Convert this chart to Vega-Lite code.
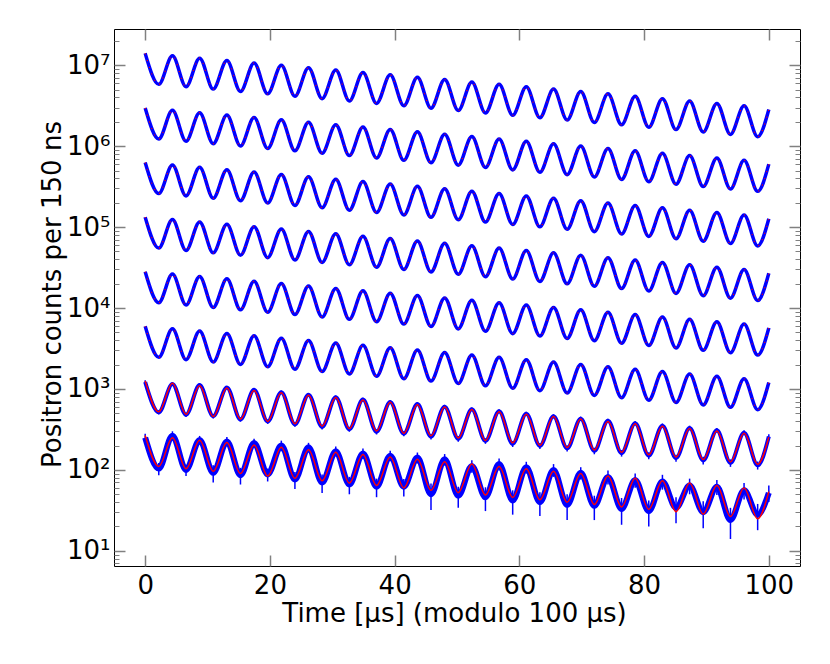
{
  "$schema": "https://vega.github.io/schema/vega-lite/v6.json",
  "width": 686,
  "height": 537,
  "autosize": "none",
  "padding": {"left": 114, "top": 29, "right": 30, "bottom": 98},
  "datasets": {
    "fit": [
      {"k":0,"t":0,"v":14000000},{"k":0,"t":2.18,"v":5800000},{"k":0,"t":4.37,"v":13083000},{"k":0,"t":6.55,"v":5420000},{"k":0,"t":8.73,"v":12225000},{"k":0,"t":10.91,"v":5065000},{"k":0,"t":13.1,"v":11424000},{"k":0,"t":15.28,"v":4733000},{"k":0,"t":17.46,"v":10675000},{"k":0,"t":19.64,"v":4423000},{"k":0,"t":21.83,"v":9976000},{"k":0,"t":24.01,"v":4133000},{"k":0,"t":26.19,"v":9322000},{"k":0,"t":28.37,"v":3862000},{"k":0,"t":30.56,"v":8711000},{"k":0,"t":32.74,"v":3609000},{"k":0,"t":34.92,"v":8140000},{"k":0,"t":37.1,"v":3373000},{"k":0,"t":39.29,"v":7607000},{"k":0,"t":41.47,"v":3152000},{"k":0,"t":43.65,"v":7109000},{"k":0,"t":45.83,"v":2945000},{"k":0,"t":48.02,"v":6643000},{"k":0,"t":50.2,"v":2752000},{"k":0,"t":52.38,"v":6208000},{"k":0,"t":54.56,"v":2572000},{"k":0,"t":56.75,"v":5801000},{"k":0,"t":58.93,"v":2403000},{"k":0,"t":61.11,"v":5421000},{"k":0,"t":63.29,"v":2246000},{"k":0,"t":65.48,"v":5065000},{"k":0,"t":67.66,"v":2099000},{"k":0,"t":69.84,"v":4733000},{"k":0,"t":72.02,"v":1961000},{"k":0,"t":74.21,"v":4423000},{"k":0,"t":76.39,"v":1833000},{"k":0,"t":78.57,"v":4133000},{"k":0,"t":80.75,"v":1712000},{"k":0,"t":82.94,"v":3863000},{"k":0,"t":85.12,"v":1600000},{"k":0,"t":87.3,"v":3609000},{"k":0,"t":89.48,"v":1495000},{"k":0,"t":91.67,"v":3373000},{"k":0,"t":93.85,"v":1397000},{"k":0,"t":96.03,"v":3152000},{"k":0,"t":98.21,"v":1306000},{"k":0,"t":100,"v":2830000},
      {"k":1,"t":0,"v":2963000},{"k":1,"t":2.18,"v":1227600},{"k":1,"t":4.37,"v":2769000},{"k":1,"t":6.55,"v":1147200},{"k":1,"t":8.73,"v":2587500},{"k":1,"t":10.91,"v":1072100},{"k":1,"t":13.1,"v":2418000},{"k":1,"t":15.28,"v":1001800},{"k":1,"t":17.46,"v":2259500},{"k":1,"t":19.64,"v":936200},{"k":1,"t":21.83,"v":2111500},{"k":1,"t":24.01,"v":874800},{"k":1,"t":26.19,"v":1973100},{"k":1,"t":28.37,"v":817400},{"k":1,"t":30.56,"v":1843800},{"k":1,"t":32.74,"v":763900},{"k":1,"t":34.92,"v":1722900},{"k":1,"t":37.1,"v":713900},{"k":1,"t":39.29,"v":1610100},{"k":1,"t":41.47,"v":667200},{"k":1,"t":43.65,"v":1504700},{"k":1,"t":45.83,"v":623400},{"k":1,"t":48.02,"v":1406100},{"k":1,"t":50.2,"v":582500},{"k":1,"t":52.38,"v":1314000},{"k":1,"t":54.56,"v":544400},{"k":1,"t":56.75,"v":1227800},{"k":1,"t":58.93,"v":508600},{"k":1,"t":61.11,"v":1147400},{"k":1,"t":63.29,"v":475400},{"k":1,"t":65.48,"v":1072100},{"k":1,"t":67.66,"v":444300},{"k":1,"t":69.84,"v":1001800},{"k":1,"t":72.02,"v":415100},{"k":1,"t":74.21,"v":936200},{"k":1,"t":76.39,"v":388000},{"k":1,"t":78.57,"v":874800},{"k":1,"t":80.75,"v":362400},{"k":1,"t":82.94,"v":817700},{"k":1,"t":85.12,"v":338700},{"k":1,"t":87.3,"v":763900},{"k":1,"t":89.48,"v":316400},{"k":1,"t":91.67,"v":713900},{"k":1,"t":93.85,"v":295700},{"k":1,"t":96.03,"v":667200},{"k":1,"t":98.21,"v":276400},{"k":1,"t":100,"v":599000},
      {"k":2,"t":0,"v":627200},{"k":2,"t":2.18,"v":259800},{"k":2,"t":4.37,"v":586100},{"k":2,"t":6.55,"v":242800},{"k":2,"t":8.73,"v":547700},{"k":2,"t":10.91,"v":226900},{"k":2,"t":13.1,"v":511800},{"k":2,"t":15.28,"v":212000},{"k":2,"t":17.46,"v":478200},{"k":2,"t":19.64,"v":198100},{"k":2,"t":21.83,"v":446900},{"k":2,"t":24.01,"v":185200},{"k":2,"t":26.19,"v":417600},{"k":2,"t":28.37,"v":173000},{"k":2,"t":30.56,"v":390300},{"k":2,"t":32.74,"v":161700},{"k":2,"t":34.92,"v":364700},{"k":2,"t":37.1,"v":151100},{"k":2,"t":39.29,"v":340800},{"k":2,"t":41.47,"v":141200},{"k":2,"t":43.65,"v":318500},{"k":2,"t":45.83,"v":131900},{"k":2,"t":48.02,"v":297600},{"k":2,"t":50.2,"v":123300},{"k":2,"t":52.38,"v":278100},{"k":2,"t":54.56,"v":115200},{"k":2,"t":56.75,"v":259900},{"k":2,"t":58.93,"v":107700},{"k":2,"t":61.11,"v":242900},{"k":2,"t":63.29,"v":100600},{"k":2,"t":65.48,"v":226900},{"k":2,"t":67.66,"v":94040},{"k":2,"t":69.84,"v":212000},{"k":2,"t":72.02,"v":87850},{"k":2,"t":74.21,"v":198100},{"k":2,"t":76.39,"v":82120},{"k":2,"t":78.57,"v":185200},{"k":2,"t":80.75,"v":76700},{"k":2,"t":82.94,"v":173100},{"k":2,"t":85.12,"v":71680},{"k":2,"t":87.3,"v":161700},{"k":2,"t":89.48,"v":66980},{"k":2,"t":91.67,"v":151100},{"k":2,"t":93.85,"v":62590},{"k":2,"t":96.03,"v":141200},{"k":2,"t":98.21,"v":58510},{"k":2,"t":100,"v":126800},
      {"k":3,"t":0,"v":132750},{"k":3,"t":2.18,"v":55000},{"k":3,"t":4.37,"v":124060},{"k":3,"t":6.55,"v":51390},{"k":3,"t":8.73,"v":115920},{"k":3,"t":10.91,"v":48030},{"k":3,"t":13.1,"v":108330},{"k":3,"t":15.28,"v":44880},{"k":3,"t":17.46,"v":101220},{"k":3,"t":19.64,"v":41940},{"k":3,"t":21.83,"v":94600},{"k":3,"t":24.01,"v":39190},{"k":3,"t":26.19,"v":88390},{"k":3,"t":28.37,"v":36620},{"k":3,"t":30.56,"v":82600},{"k":3,"t":32.74,"v":34220},{"k":3,"t":34.92,"v":77190},{"k":3,"t":37.1,"v":31980},{"k":3,"t":39.29,"v":72130},{"k":3,"t":41.47,"v":29890},{"k":3,"t":43.65,"v":67410},{"k":3,"t":45.83,"v":27930},{"k":3,"t":48.02,"v":62990},{"k":3,"t":50.2,"v":26100},{"k":3,"t":52.38,"v":58870},{"k":3,"t":54.56,"v":24390},{"k":3,"t":56.75,"v":55010},{"k":3,"t":58.93,"v":22790},{"k":3,"t":61.11,"v":51400},{"k":3,"t":63.29,"v":21300},{"k":3,"t":65.48,"v":48030},{"k":3,"t":67.66,"v":19900},{"k":3,"t":69.84,"v":44880},{"k":3,"t":72.02,"v":18600},{"k":3,"t":74.21,"v":41940},{"k":3,"t":76.39,"v":17380},{"k":3,"t":78.57,"v":39190},{"k":3,"t":80.75,"v":16230},{"k":3,"t":82.94,"v":36630},{"k":3,"t":85.12,"v":15170},{"k":3,"t":87.3,"v":34220},{"k":3,"t":89.48,"v":14180},{"k":3,"t":91.67,"v":31980},{"k":3,"t":93.85,"v":13250},{"k":3,"t":96.03,"v":29890},{"k":3,"t":98.21,"v":12380},{"k":3,"t":100,"v":26840},
      {"k":4,"t":0,"v":28100},{"k":4,"t":2.18,"v":11640},{"k":4,"t":4.37,"v":26260},{"k":4,"t":6.55,"v":10880},{"k":4,"t":8.73,"v":24540},{"k":4,"t":10.91,"v":10170},{"k":4,"t":13.1,"v":22930},{"k":4,"t":15.28,"v":9500},{"k":4,"t":17.46,"v":21430},{"k":4,"t":19.64,"v":8877},{"k":4,"t":21.83,"v":20020},{"k":4,"t":24.01,"v":8295},{"k":4,"t":26.19,"v":18710},{"k":4,"t":28.37,"v":7751},{"k":4,"t":30.56,"v":17480},{"k":4,"t":32.74,"v":7244},{"k":4,"t":34.92,"v":16340},{"k":4,"t":37.1,"v":6770},{"k":4,"t":39.29,"v":15270},{"k":4,"t":41.47,"v":6326},{"k":4,"t":43.65,"v":14270},{"k":4,"t":45.83,"v":5911},{"k":4,"t":48.02,"v":13330},{"k":4,"t":50.2,"v":5524},{"k":4,"t":52.38,"v":12460},{"k":4,"t":54.56,"v":5162},{"k":4,"t":56.75,"v":11640},{"k":4,"t":58.93,"v":4823},{"k":4,"t":61.11,"v":10880},{"k":4,"t":63.29,"v":4508},{"k":4,"t":65.48,"v":10170},{"k":4,"t":67.66,"v":4213},{"k":4,"t":69.84,"v":9500},{"k":4,"t":72.02,"v":3936},{"k":4,"t":74.21,"v":8877},{"k":4,"t":76.39,"v":3679},{"k":4,"t":78.57,"v":8295},{"k":4,"t":80.75,"v":3436},{"k":4,"t":82.94,"v":7753},{"k":4,"t":85.12,"v":3211},{"k":4,"t":87.3,"v":7244},{"k":4,"t":89.48,"v":3001},{"k":4,"t":91.67,"v":6770},{"k":4,"t":93.85,"v":2804},{"k":4,"t":96.03,"v":6326},{"k":4,"t":98.21,"v":2621},{"k":4,"t":100,"v":5680},
      {"k":5,"t":0,"v":5947},{"k":5,"t":2.18,"v":2464},{"k":5,"t":4.37,"v":5558},{"k":5,"t":6.55,"v":2303},{"k":5,"t":8.73,"v":5193},{"k":5,"t":10.91,"v":2152},{"k":5,"t":13.1,"v":4853},{"k":5,"t":15.28,"v":2011},{"k":5,"t":17.46,"v":4535},{"k":5,"t":19.64,"v":1879},{"k":5,"t":21.83,"v":4238},{"k":5,"t":24.01,"v":1756},{"k":5,"t":26.19,"v":3960},{"k":5,"t":28.37,"v":1641},{"k":5,"t":30.56,"v":3701},{"k":5,"t":32.74,"v":1533},{"k":5,"t":34.92,"v":3458},{"k":5,"t":37.1,"v":1433},{"k":5,"t":39.29,"v":3232},{"k":5,"t":41.47,"v":1339},{"k":5,"t":43.65,"v":3020},{"k":5,"t":45.83,"v":1251},{"k":5,"t":48.02,"v":2822},{"k":5,"t":50.2,"v":1169},{"k":5,"t":52.38,"v":2637},{"k":5,"t":54.56,"v":1093},{"k":5,"t":56.75,"v":2464},{"k":5,"t":58.93,"v":1021},{"k":5,"t":61.11,"v":2303},{"k":5,"t":63.29,"v":954},{"k":5,"t":65.48,"v":2152},{"k":5,"t":67.66,"v":892},{"k":5,"t":69.84,"v":2011},{"k":5,"t":72.02,"v":833},{"k":5,"t":74.21,"v":1879},{"k":5,"t":76.39,"v":779},{"k":5,"t":78.57,"v":1756},{"k":5,"t":80.75,"v":727},{"k":5,"t":82.94,"v":1641},{"k":5,"t":85.12,"v":680},{"k":5,"t":87.3,"v":1533},{"k":5,"t":89.48,"v":635},{"k":5,"t":91.67,"v":1433},{"k":5,"t":93.85,"v":593},{"k":5,"t":96.03,"v":1339},{"k":5,"t":98.21,"v":555},{"k":5,"t":100,"v":1202},
      {"k":6,"t":0,"v":1259},{"k":6,"t":2.18,"v":521.5},{"k":6,"t":4.37,"v":1176},{"k":6,"t":6.55,"v":487.4},{"k":6,"t":8.73,"v":1099},{"k":6,"t":10.91,"v":455.4},{"k":6,"t":13.1,"v":1027},{"k":6,"t":15.28,"v":425.6},{"k":6,"t":17.46,"v":959.9},{"k":6,"t":19.64,"v":397.7},{"k":6,"t":21.83,"v":897},{"k":6,"t":24.01,"v":371.6},{"k":6,"t":26.19,"v":838.2},{"k":6,"t":28.37,"v":347.3},{"k":6,"t":30.56,"v":783.3},{"k":6,"t":32.74,"v":324.5},{"k":6,"t":34.92,"v":731.9},{"k":6,"t":37.1,"v":303.3},{"k":6,"t":39.29,"v":684},{"k":6,"t":41.47,"v":283.4},{"k":6,"t":43.65,"v":639.2},{"k":6,"t":45.83,"v":264.8},{"k":6,"t":48.02,"v":597.3},{"k":6,"t":50.2,"v":247.5},{"k":6,"t":52.38,"v":558.2},{"k":6,"t":54.56,"v":231.3},{"k":6,"t":56.75,"v":521.6},{"k":6,"t":58.93,"v":216.1},{"k":6,"t":61.11,"v":487.4},{"k":6,"t":63.29,"v":202},{"k":6,"t":65.48,"v":455.4},{"k":6,"t":67.66,"v":188.7},{"k":6,"t":69.84,"v":425.6},{"k":6,"t":72.02,"v":176.3},{"k":6,"t":74.21,"v":397.7},{"k":6,"t":76.39,"v":164.8},{"k":6,"t":78.57,"v":371.6},{"k":6,"t":80.75,"v":153.9},{"k":6,"t":82.94,"v":347.4},{"k":6,"t":85.12,"v":143.9},{"k":6,"t":87.3,"v":324.5},{"k":6,"t":89.48,"v":134.4},{"k":6,"t":91.67,"v":303.3},{"k":6,"t":93.85,"v":125.6},{"k":6,"t":96.03,"v":283.4},{"k":6,"t":98.21,"v":117.4},{"k":6,"t":100,"v":254.5},
      {"k":7,"t":0,"v":266.4},{"k":7,"t":2.18,"v":110.4},{"k":7,"t":4.37,"v":249},{"k":7,"t":6.55,"v":103.2},{"k":7,"t":8.73,"v":232.7},{"k":7,"t":10.91,"v":96.4},{"k":7,"t":13.1,"v":217.4},{"k":7,"t":15.28,"v":90.08},{"k":7,"t":17.46,"v":203.2},{"k":7,"t":19.64,"v":84.18},{"k":7,"t":21.83,"v":189.9},{"k":7,"t":24.01,"v":78.66},{"k":7,"t":26.19,"v":177.4},{"k":7,"t":28.37,"v":73.5},{"k":7,"t":30.56,"v":165.8},{"k":7,"t":32.74,"v":68.69},{"k":7,"t":34.92,"v":154.9},{"k":7,"t":37.1,"v":64.2},{"k":7,"t":39.29,"v":144.8},{"k":7,"t":41.47,"v":59.99},{"k":7,"t":43.65,"v":135.3},{"k":7,"t":45.83,"v":56.05},{"k":7,"t":48.02,"v":126.4},{"k":7,"t":50.2,"v":52.38},{"k":7,"t":52.38,"v":118.2},{"k":7,"t":54.56,"v":48.95},{"k":7,"t":56.75,"v":110.4},{"k":7,"t":58.93,"v":45.73},{"k":7,"t":61.11,"v":103.2},{"k":7,"t":63.29,"v":42.75},{"k":7,"t":65.48,"v":96.4},{"k":7,"t":67.66,"v":39.95},{"k":7,"t":69.84,"v":90.08},{"k":7,"t":72.02,"v":37.32},{"k":7,"t":74.21,"v":84.18},{"k":7,"t":76.39,"v":34.89},{"k":7,"t":78.57,"v":78.66},{"k":7,"t":80.75,"v":32.58},{"k":7,"t":82.94,"v":73.52},{"k":7,"t":85.12,"v":30.45},{"k":7,"t":87.3,"v":68.69},{"k":7,"t":89.48,"v":28.45},{"k":7,"t":91.67,"v":64.2},{"k":7,"t":93.85,"v":26.59},{"k":7,"t":96.03,"v":59.99},{"k":7,"t":98.21,"v":24.86},{"k":7,"t":100,"v":53.86}
    ],
    "obs": [
      {"k":6,"t":0,"y":1220,"e":60},{"k":6,"t":2.18,"y":515,"e":30},{"k":6,"t":4.37,"y":1150,"e":55},{"k":6,"t":6.55,"y":480,"e":28},{"k":6,"t":8.73,"y":1120,"e":55},{"k":6,"t":10.91,"y":460,"e":28},{"k":6,"t":13.1,"y":1040,"e":50},{"k":6,"t":15.28,"y":420,"e":26},{"k":6,"t":17.46,"y":975,"e":48},{"k":6,"t":19.64,"y":395,"e":25},{"k":6,"t":21.83,"y":910,"e":45},{"k":6,"t":24.01,"y":365,"e":24},{"k":6,"t":26.19,"y":850,"e":42},{"k":6,"t":28.37,"y":340,"e":24},{"k":6,"t":30.56,"y":790,"e":40},{"k":6,"t":32.74,"y":318,"e":22},{"k":6,"t":34.92,"y":740,"e":38},{"k":6,"t":37.1,"y":296,"e":22},{"k":6,"t":39.29,"y":690,"e":36},{"k":6,"t":41.47,"y":280,"e":20},{"k":6,"t":43.65,"y":650,"e":34},{"k":6,"t":45.83,"y":258,"e":20},{"k":6,"t":48.02,"y":605,"e":32},{"k":6,"t":50.2,"y":243,"e":20},{"k":6,"t":52.38,"y":560,"e":30},{"k":6,"t":54.56,"y":228,"e":18},{"k":6,"t":56.75,"y":530,"e":30},{"k":6,"t":58.93,"y":210,"e":18},{"k":6,"t":61.11,"y":495,"e":28},{"k":6,"t":63.29,"y":198,"e":17},{"k":6,"t":65.48,"y":460,"e":27},{"k":6,"t":67.66,"y":185,"e":16},{"k":6,"t":69.84,"y":430,"e":26},{"k":6,"t":72.02,"y":172,"e":16},{"k":6,"t":74.21,"y":405,"e":25},{"k":6,"t":76.39,"y":161,"e":15},{"k":6,"t":78.57,"y":378,"e":24},{"k":6,"t":80.75,"y":150,"e":15},{"k":6,"t":82.94,"y":352,"e":23},{"k":6,"t":85.12,"y":140,"e":14},{"k":6,"t":87.3,"y":330,"e":22},{"k":6,"t":89.48,"y":131,"e":14},{"k":6,"t":91.67,"y":308,"e":21},{"k":6,"t":93.85,"y":122,"e":13},{"k":6,"t":96.03,"y":288,"e":20},{"k":6,"t":98.21,"y":114,"e":13},{"k":6,"t":100,"y":258,"e":18},
      {"k":7,"t":0,"y":250,"e":30},{"k":7,"t":2.18,"y":104,"e":18},{"k":7,"t":4.37,"y":265,"e":35},{"k":7,"t":6.55,"y":100,"e":16},{"k":7,"t":8.73,"y":235,"e":28},{"k":7,"t":10.91,"y":92,"e":22},{"k":7,"t":13.1,"y":225,"e":30},{"k":7,"t":15.28,"y":86,"e":20},{"k":7,"t":17.46,"y":215,"e":28},{"k":7,"t":19.64,"y":88,"e":16},{"k":7,"t":21.83,"y":200,"e":30},{"k":7,"t":24.01,"y":76,"e":18},{"k":7,"t":26.19,"y":190,"e":26},{"k":7,"t":28.37,"y":70,"e":18},{"k":7,"t":30.56,"y":170,"e":24},{"k":7,"t":32.74,"y":66,"e":16},{"k":7,"t":34.92,"y":160,"e":24},{"k":7,"t":37.1,"y":62,"e":16},{"k":7,"t":39.29,"y":150,"e":22},{"k":7,"t":41.47,"y":62,"e":15},{"k":7,"t":43.65,"y":142,"e":22},{"k":7,"t":45.83,"y":50,"e":18},{"k":7,"t":48.02,"y":135,"e":22},{"k":7,"t":50.2,"y":48,"e":14},{"k":7,"t":52.38,"y":112,"e":20},{"k":7,"t":54.56,"y":46,"e":15},{"k":7,"t":56.75,"y":118,"e":20},{"k":7,"t":58.93,"y":42,"e":14},{"k":7,"t":61.11,"y":108,"e":18},{"k":7,"t":63.29,"y":40,"e":13},{"k":7,"t":65.48,"y":100,"e":18},{"k":7,"t":67.66,"y":37,"e":13},{"k":7,"t":69.84,"y":92,"e":16},{"k":7,"t":72.02,"y":36,"e":12},{"k":7,"t":74.21,"y":82,"e":16},{"k":7,"t":76.39,"y":33,"e":12},{"k":7,"t":78.57,"y":75,"e":15},{"k":7,"t":80.75,"y":31,"e":11},{"k":7,"t":82.94,"y":72,"e":15},{"k":7,"t":85.12,"y":34,"e":12},{"k":7,"t":87.3,"y":64,"e":14},{"k":7,"t":89.48,"y":30,"e":11},{"k":7,"t":91.67,"y":62,"e":13},{"k":7,"t":93.85,"y":24,"e":10},{"k":7,"t":96.03,"y":56,"e":13},{"k":7,"t":98.21,"y":28,"e":10},{"k":7,"t":100,"y":52,"e":12}
    ]
  },
  "config": {
    "view": {"stroke": "black", "strokeWidth": 1},
    "axis": {
      "labelFont": "DejaVu Sans",
      "titleFont": "DejaVu Sans",
      "labelFontSize": 26,
      "titleFontSize": 26,
      "titleFontWeight": "normal",
      "labelColor": "black",
      "titleColor": "black",
      "tickColor": "#808080",
      "tickWidth": 1.5,
      "domain": false,
      "grid": false
    }
  },
  "resolve": {"axis": {"x": "independent", "y": "independent"}},
  "layer": [
    {
      "data": {"name": "fit"},
      "transform": [{"filter": "datum.k <= 5"}],
      "mark": {"type": "line", "color": "#0000ff", "strokeWidth": 3.5, "interpolate": "monotone"},
      "encoding": {
        "x": {"field": "t", "type": "quantitative", "scale": {"domain": [-5, 105], "nice": false, "zero": false},
          "axis": {"orient": "bottom", "values": [0, 20, 40, 60, 80, 100], "tickSize": -11, "labelPadding": 17,
            "title": "Time [μs] (modulo 100 μs)", "titleX": 340, "titleY": 55, "titleBaseline": "alphabetic"}},
        "y": {"field": "v", "type": "quantitative", "scale": {"type": "log", "domain": [6.5, 28000000], "nice": false},
          "axis": {"orient": "left", "values": [10, 100, 1000, 10000, 100000, 1000000, 10000000], "tickSize": -11, "labelPadding": 15,
            "labelExpr": "'10' + ['', '¹', '²', '³', '⁴', '⁵', '⁶', '⁷'][round(log(datum.value) / LN10)]",
            "title": "Positron counts per 150 ns", "titleX": -54, "titleY": 265, "titleBaseline": "alphabetic"}},
        "detail": {"field": "k"}
      }
    },
    {
      "data": {"name": "obs"},
      "mark": {"type": "errorbar", "color": "#0000ff", "thickness": 1.5},
      "encoding": {
        "x": {"field": "t", "type": "quantitative", "scale": {"domain": [-5, 105], "nice": false, "zero": false}, "axis": null},
        "y": {"field": "y", "type": "quantitative", "scale": {"type": "log", "domain": [6.5, 28000000], "nice": false}, "axis": null},
        "yError": {"field": "e"}
      }
    },
    {
      "data": {"name": "obs"},
      "mark": {"type": "line", "color": "#0000ff", "interpolate": "monotone"},
      "encoding": {
        "x": {"field": "t", "type": "quantitative", "scale": {"domain": [-5, 105], "nice": false, "zero": false},
          "axis": {"orient": "top", "values": [0, 20, 40, 60, 80, 100], "tickSize": -11, "labels": false, "title": null}},
        "y": {"field": "y", "type": "quantitative", "scale": {"type": "log", "domain": [6.5, 28000000], "nice": false},
          "axis": {"orient": "right", "values": [10, 100, 1000, 10000, 100000, 1000000, 10000000], "tickSize": -11, "labels": false, "title": null}},
        "strokeWidth": {"field": "k", "type": "quantitative", "scale": {"domain": [6, 7], "range": [4, 6]}, "legend": null},
        "detail": {"field": "k"}
      }
    },
    {
      "data": {"name": "fit"},
      "transform": [{"filter": "datum.k >= 6"}],
      "mark": {"type": "line", "color": "#ff0000", "strokeWidth": 1.5, "interpolate": "monotone"},
      "encoding": {
        "x": {"field": "t", "type": "quantitative", "scale": {"domain": [-5, 105], "nice": false, "zero": false}, "axis": null},
        "y": {"field": "v", "type": "quantitative", "scale": {"type": "log", "domain": [6.5, 28000000], "nice": false},
          "axis": {"orient": "left", "values": [7, 8, 9, 20, 30, 40, 50, 60, 70, 80, 90, 200, 300, 400, 500, 600, 700, 800, 900, 2000, 3000, 4000, 5000, 6000, 7000, 8000, 9000, 20000, 30000, 40000, 50000, 60000, 70000, 80000, 90000, 200000, 300000, 400000, 500000, 600000, 700000, 800000, 900000, 2000000, 3000000, 4000000, 5000000, 6000000, 7000000, 8000000, 9000000, 20000000],
            "tickSize": -5, "tickWidth": 1, "labels": false, "title": null}},
        "detail": {"field": "k"}
      }
    },
    {
      "data": {"name": "fit"},
      "transform": [{"filter": "datum.k <= 5"}],
      "mark": {"type": "line", "color": "#ff0000", "strokeWidth": 1.2, "strokeDash": [1, 6], "interpolate": "monotone"},
      "encoding": {
        "x": {"field": "t", "type": "quantitative", "scale": {"domain": [-5, 105], "nice": false, "zero": false}, "axis": null},
        "y": {"field": "v", "type": "quantitative", "scale": {"type": "log", "domain": [6.5, 28000000], "nice": false},
          "axis": {"orient": "right", "values": [7, 8, 9, 20, 30, 40, 50, 60, 70, 80, 90, 200, 300, 400, 500, 600, 700, 800, 900, 2000, 3000, 4000, 5000, 6000, 7000, 8000, 9000, 20000, 30000, 40000, 50000, 60000, 70000, 80000, 90000, 200000, 300000, 400000, 500000, 600000, 700000, 800000, 900000, 2000000, 3000000, 4000000, 5000000, 6000000, 7000000, 8000000, 9000000, 20000000],
            "tickSize": -5, "tickWidth": 1, "labels": false, "title": null}},
        "detail": {"field": "k"}
      }
    }
  ]
}
